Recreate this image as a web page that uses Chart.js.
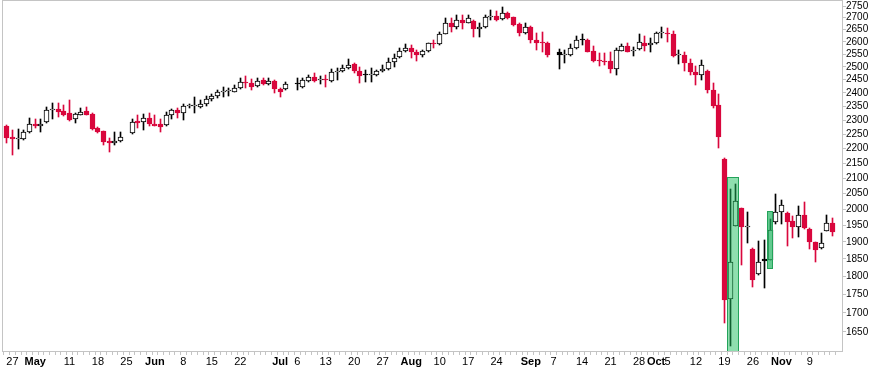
<!DOCTYPE html>
<html><head><meta charset="utf-8">
<script src="https://cdn.jsdelivr.net/npm/chart.js@4.4.1/dist/chart.umd.min.js"></script>
<style>html,body{margin:0;padding:0;background:#fff;}canvas{display:block;}</style>
</head><body>
<canvas id="c" width="892" height="368"></canvas>
<script>
// ---- categories (weekdays) ----
const days = [
'04-24',
'04-27','04-28','04-29','04-30','05-01',
'05-04','05-05','05-06','05-07','05-08',
'05-11','05-12','05-13','05-14','05-15',
'05-18','05-19','05-20','05-21','05-22',
'05-25','05-26','05-27','05-28','05-29',
'06-01','06-02','06-03','06-04','06-05',
'06-08','06-09','06-10','06-11','06-12',
'06-15','06-16','06-17','06-18','06-19',
'06-22','06-23','06-24','06-25','06-26',
'06-29','06-30','07-01','07-02','07-03',
'07-06','07-07','07-08','07-09','07-10',
'07-13','07-14','07-15','07-16','07-17',
'07-20','07-21','07-22','07-23','07-24',
'07-27','07-28','07-29','07-30','07-31',
'08-03','08-04','08-05','08-06','08-07',
'08-10','08-11','08-12','08-13','08-14',
'08-17','08-18','08-19','08-20','08-21',
'08-24','08-25','08-26','08-27','08-28',
'08-31','09-01','09-02','09-03','09-04',
'09-07','09-08','09-09','09-10','09-11',
'09-14','09-15','09-16','09-17','09-18',
'09-21','09-22','09-23','09-24','09-25',
'09-28','09-29','09-30','10-01','10-02',
'10-05','10-06','10-07','10-08','10-09',
'10-12','10-13','10-14','10-15','10-16',
'10-19','10-20','10-21','10-22','10-23',
'10-26','10-27','10-28','10-29','10-30',
'11-02','11-03','11-04','11-05','11-06',
'11-09','11-10','11-11','11-12','11-13'];

// ---- series values (null = market closed) ----
const openPrices = [2280,
 2238,2233,2231,2256,2287, 2278,2292,2336,2339,2332, 2326,2302,2320,2331,2322, 2273,2260,2224,2217,2224,
 null,2253,2297,2292,2306, 2285,2287,2281,2318,2337, 2326,2350,2352,2348,2358, 2376,2388,2403,2406,2404,
 2418,2441,2439,2427,2449, 2432,2445,2415,2414,null, 2438,2424,2446,2459,2449, 2451,2446,2480,2482,2495,
 2510,2484,2470,2468,2469, 2482,2491,2518,2538,2563, 2574,2560,2545,2564,2593, 2592,2632,2677,2662,2690,
 2679,2687,2651,2659,2704, 2708,2694,2719,2701,2673, 2635,2662,2607,2600,2597, null,2560,2546,2546,2574,
 2612,2607,2563,2526,2524, 2523,2490,2564,2583,2563, 2570,2597,2587,2594,2635, 2637,2633,2546,2547,2514,
 2480,2468,2484,2411,2354, 2164,1738,1949,2003,1945, 1879,1806,1849,1848,1961, 1990,1989,1963,1945,1983,
 1940,1899,1882,1934,1957];
const highPrices = [2283,
 2263,2268,2266,2309,2303, 2305,2348,2362,2362,2355, 2374,2325,2343,2346,2325, 2276,2262,2235,2258,2258,
 null,2302,2320,2322,2326, 2320,2302,2329,2340,2343, 2360,2360,2386,2375,2389, 2395,2410,2424,2418,2430,
 2456,2466,2453,2456,2456, 2456,2450,2418,2442,null, 2456,2456,2469,2475,2466, 2469,2491,2496,2507,2530,
 2514,2498,2488,2495,2488, 2507,2534,2551,2574,2590, 2587,2567,2567,2597,2607, 2640,2697,2697,2711,2711,
 2711,2690,2677,2711,2733, 2730,2747,2725,2705,2677, 2679,2665,2638,2641,2600, null,2570,2567,2592,2625,
 2632,2610,2583,2554,2554, 2560,2574,2591,2596,2580, 2631,2624,2614,2642,2660, 2656,2646,2567,2560,2530,
 2503,2527,2486,2439,2396, 2166,2064,2080,2005,1990, 1881,1904,1907,1970,2048, 2030,1992,1980,2009,2022,
 1942,1901,1926,1982,1972];
const lowPrices = [2220,
 2178,2197,2228,2252,2272, 2256,2290,2305,2311,2316, 2298,2290,2318,2318,2263, 2252,2211,2188,2211,2222,
 null,2250,2270,2263,2280, 2277,2258,2278,2305,2309, 2300,2343,2326,2345,2352, 2370,2380,2386,2388,2402,
 2415,2418,2411,2424,2430, 2430,2398,2386,2412,null, 2411,2420,2443,2443,2432, 2424,2442,2449,2480,2493,
 2475,2439,2442,2442,2465, 2480,2488,2501,2535,2560, 2534,2521,2540,2560,2575, 2588,2630,2641,2651,2651,
 2677,2620,2620,2657,2690, 2686,2690,2694,2665,2623, 2632,2594,2567,2560,2540, null,2490,2515,2544,2572,
 2588,2557,2520,2503,2507, 2476,2470,2562,2557,2543, 2567,2564,2560,2592,2615, 2601,2538,2510,2482,2467,
 2428,2449,2399,2344,2203, 1674,1614,1947,1833,1896, 1771,1804,1767,1846,1955, 1955,1889,1911,1914,1940,
 1879,1842,1880,1932,1918];
const closePrices = [2235,
 2231,2234,2258,2287,2278, 2287,2335,2337,2330,2320, 2300,2322,2329,2320,2268, 2257,2221,2217,2225,2241,
 null,2293,2291,2306,2287, 2280,2275,2318,2337,2326, 2350,2351,2354,2357,2376, 2388,2402,2404,2407,2418,
 2441,2436,2424,2446,2432, 2445,2414,2404,2432,null, 2434,2449,2462,2446,2450, 2448,2479,2483,2495,2507,
 2482,2465,2467,2469,2484, 2491,2518,2536,2563,2574, 2557,2545,2564,2594,2590, 2632,2677,2662,2690,2679,
 2697,2651,2659,2704,2708, 2690,2719,2697,2668,2635, 2662,2607,2597,2594,2545, null,2548,2551,2574,2607,
 2609,2560,2524,2521,2518, 2490,2567,2583,2560,2565, 2598,2583,2596,2636,2638, 2634,2544,2548,2514,2480,
 2467,2507,2409,2350,2241, 1736,1841,2026,1946,1948, 1791,1842,1845,1937,1990, 2013,1961,1944,1983,1941,
 1899,1877,1896,1957,1931];
const priorClose = 2290;

// ---- tick labels ----
const tickDays  = ['04-27','05-01','05-11','05-18','05-25','06-01','06-08','06-15','06-22','07-01','07-06','07-13','07-20','07-27','08-03','08-10','08-17','08-24','09-01','09-07','09-14','09-21','09-28','10-01','10-05','10-12','10-19','10-26','11-02','11-09'];
const tickTexts = ['27','May','11','18','25','Jun','8','15','22','Jul','6','13','20','27','Aug','10','17','24','Sep','7','14','21','28','Oct','5','12','19','26','Nov','9'];
const monthLabels = ['May','Jun','Jul','Aug','Sep','Oct','Nov'];
const priceTicks = [1650,1700,1750,1800,1850,1900,1950,2000,2050,2100,2150,2200,2250,2300,2350,2400,2450,2500,2550,2600,2650,2700,2750];

// ---- highlighted zones ----
const zoneStart = ['10-20','10-29'];
const zoneEnd   = ['10-21','10-29'];
const zoneLow   = [1590,1823];
const zoneHigh  = [2103,1995];

// ---- build ----
const RED = '#d9073d', BLACK = '#000000';
const idx = d => days.indexOf(d);
const wickData = [], bodyData = [], strokeCols = [], fillCols = [];
let prev = priorClose;
days.forEach((d, i) => {
  if (openPrices[i] == null) return;
  const o = openPrices[i], c = closePrices[i];
  const stroke = c >= prev ? BLACK : RED;
  const fill = c > o ? '#ffffff' : stroke;
  wickData.push({x: i, y: [lowPrices[i], highPrices[i]]});
  bodyData.push({x: i, y: [o, c]});
  strokeCols.push(stroke); fillCols.push(fill);
  prev = c;
});
const labelAt = {};
tickDays.forEach((d, k) => { labelAt[idx(d)] = tickTexts[k]; });

const snap = {
  id: 'snap',
  afterDatasetsUpdate(chart) {
    chart.data.datasets.forEach((ds, di) => {
      chart.getDatasetMeta(di).data.forEach(el => {
        const w = Math.round(el.width);
        el.x = (w % 2 === 1) ? Math.floor(el.x) + 0.5 : Math.round(el.x);
        let y = Math.round(el.y), b = Math.round(el.base);
        if (Math.abs(b - y) < 1) b = y + 1;
        el.y = y; el.base = b; el.height = b - y;
      });
    });
  }
};
const frame = {
  id: 'frame',
  afterDatasetsDraw(chart) {
    const {ctx, chartArea: a, scales} = chart;
    const x = scales.x, y = scales.y;
    const step = x.getPixelForValue(1) - x.getPixelForValue(0);
    ctx.save();
    ctx.beginPath(); ctx.rect(a.left, a.top, a.right - a.left, a.bottom - a.top); ctx.clip();
    const fills = ['rgba(32,192,96,0.5)', 'rgba(32,180,96,0.7)'];
    zoneStart.forEach((s, k) => {
      const x0 = Math.round(x.getPixelForValue(idx(s)) - step * 0.5) + 0.5;
      const x1 = Math.round(x.getPixelForValue(idx(zoneEnd[k])) + step * 0.4) + 0.5;
      const y0 = Math.round(y.getPixelForValue(zoneHigh[k])) + 0.5;
      const y1 = Math.round(y.getPixelForValue(zoneLow[k])) + 0.5;
      ctx.fillStyle = fills[k];
      ctx.fillRect(x0, y0, x1 - x0, y1 - y0);
      ctx.strokeStyle = '#23a35a'; ctx.lineWidth = 1;
      ctx.strokeRect(x0, y0, x1 - x0, y1 - y0);
    });
    ctx.restore();
  },
  afterDraw(chart) {
    const {ctx, chartArea: a} = chart;
    ctx.save();
    ctx.strokeStyle = '#c4c4c4'; ctx.lineWidth = 1;
    ctx.strokeRect(a.left + 0.5, a.top + 0.5, a.right - a.left - 1, a.bottom - a.top - 1);
    ctx.restore();
  }
};

new Chart(document.getElementById('c'), {
  type: 'bar',
  data: {
    datasets: [
      {label: 'body', data: bodyData, order: 0, backgroundColor: fillCols, borderColor: strokeCols,
       borderWidth: 1, borderSkipped: false, maxBarThickness: 5, minBarLength: 1},
      {label: 'wick', data: wickData, order: 1, backgroundColor: strokeCols, borderWidth: 0,
       maxBarThickness: 1, minBarLength: 1}
    ]
  },
  options: {
    responsive: false, animation: false, devicePixelRatio: 1,
    layout: {padding: {left: 2, top: 0, right: 0, bottom: 0}},
    datasets: {bar: {grouped: false, barPercentage: 1, categoryPercentage: 1}},
    plugins: {legend: {display: false}, tooltip: {enabled: false}},
    scales: {
      x: {
        type: 'linear', min: -0.331, max: 146.31,
        afterBuildTicks: s => { s.ticks = days.map((d, i) => ({value: i})); },
        afterFit: s => { s.height = 16; s.paddingLeft = 0; s.paddingRight = 0; },
        grid: {drawOnChartArea: false, tickLength: 3, color: '#c4c4c4'},
        border: {display: false},
        ticks: {
          autoSkip: false, maxRotation: 0, minRotation: 0, padding: 0, color: '#000',
          callback: v => labelAt[v] || '',
          font: c => ({family: 'Liberation Sans, Arial, sans-serif', size: 11,
                       weight: monthLabels.includes(labelAt[c.tick && c.tick.value]) ? 'bold' : 'normal'})
        }
      },
      y: {
        type: 'logarithmic', position: 'right', min: 1599, max: 2776,
        afterBuildTicks: s => { s.ticks = priceTicks.map(v => ({value: v})); },
        afterFit: s => { s.width = 49; s.paddingTop = 0; s.paddingBottom = 0; },
        grid: {drawOnChartArea: false, tickLength: 3, color: '#c4c4c4'},
        border: {display: false},
        ticks: {autoSkip: false, padding: 0, color: '#000',
                font: {family: 'Liberation Sans, Arial, sans-serif', size: 10},
                callback: v => String(v)}
      }
    }
  },
  plugins: [snap, frame]
});
</script>
</body></html>
